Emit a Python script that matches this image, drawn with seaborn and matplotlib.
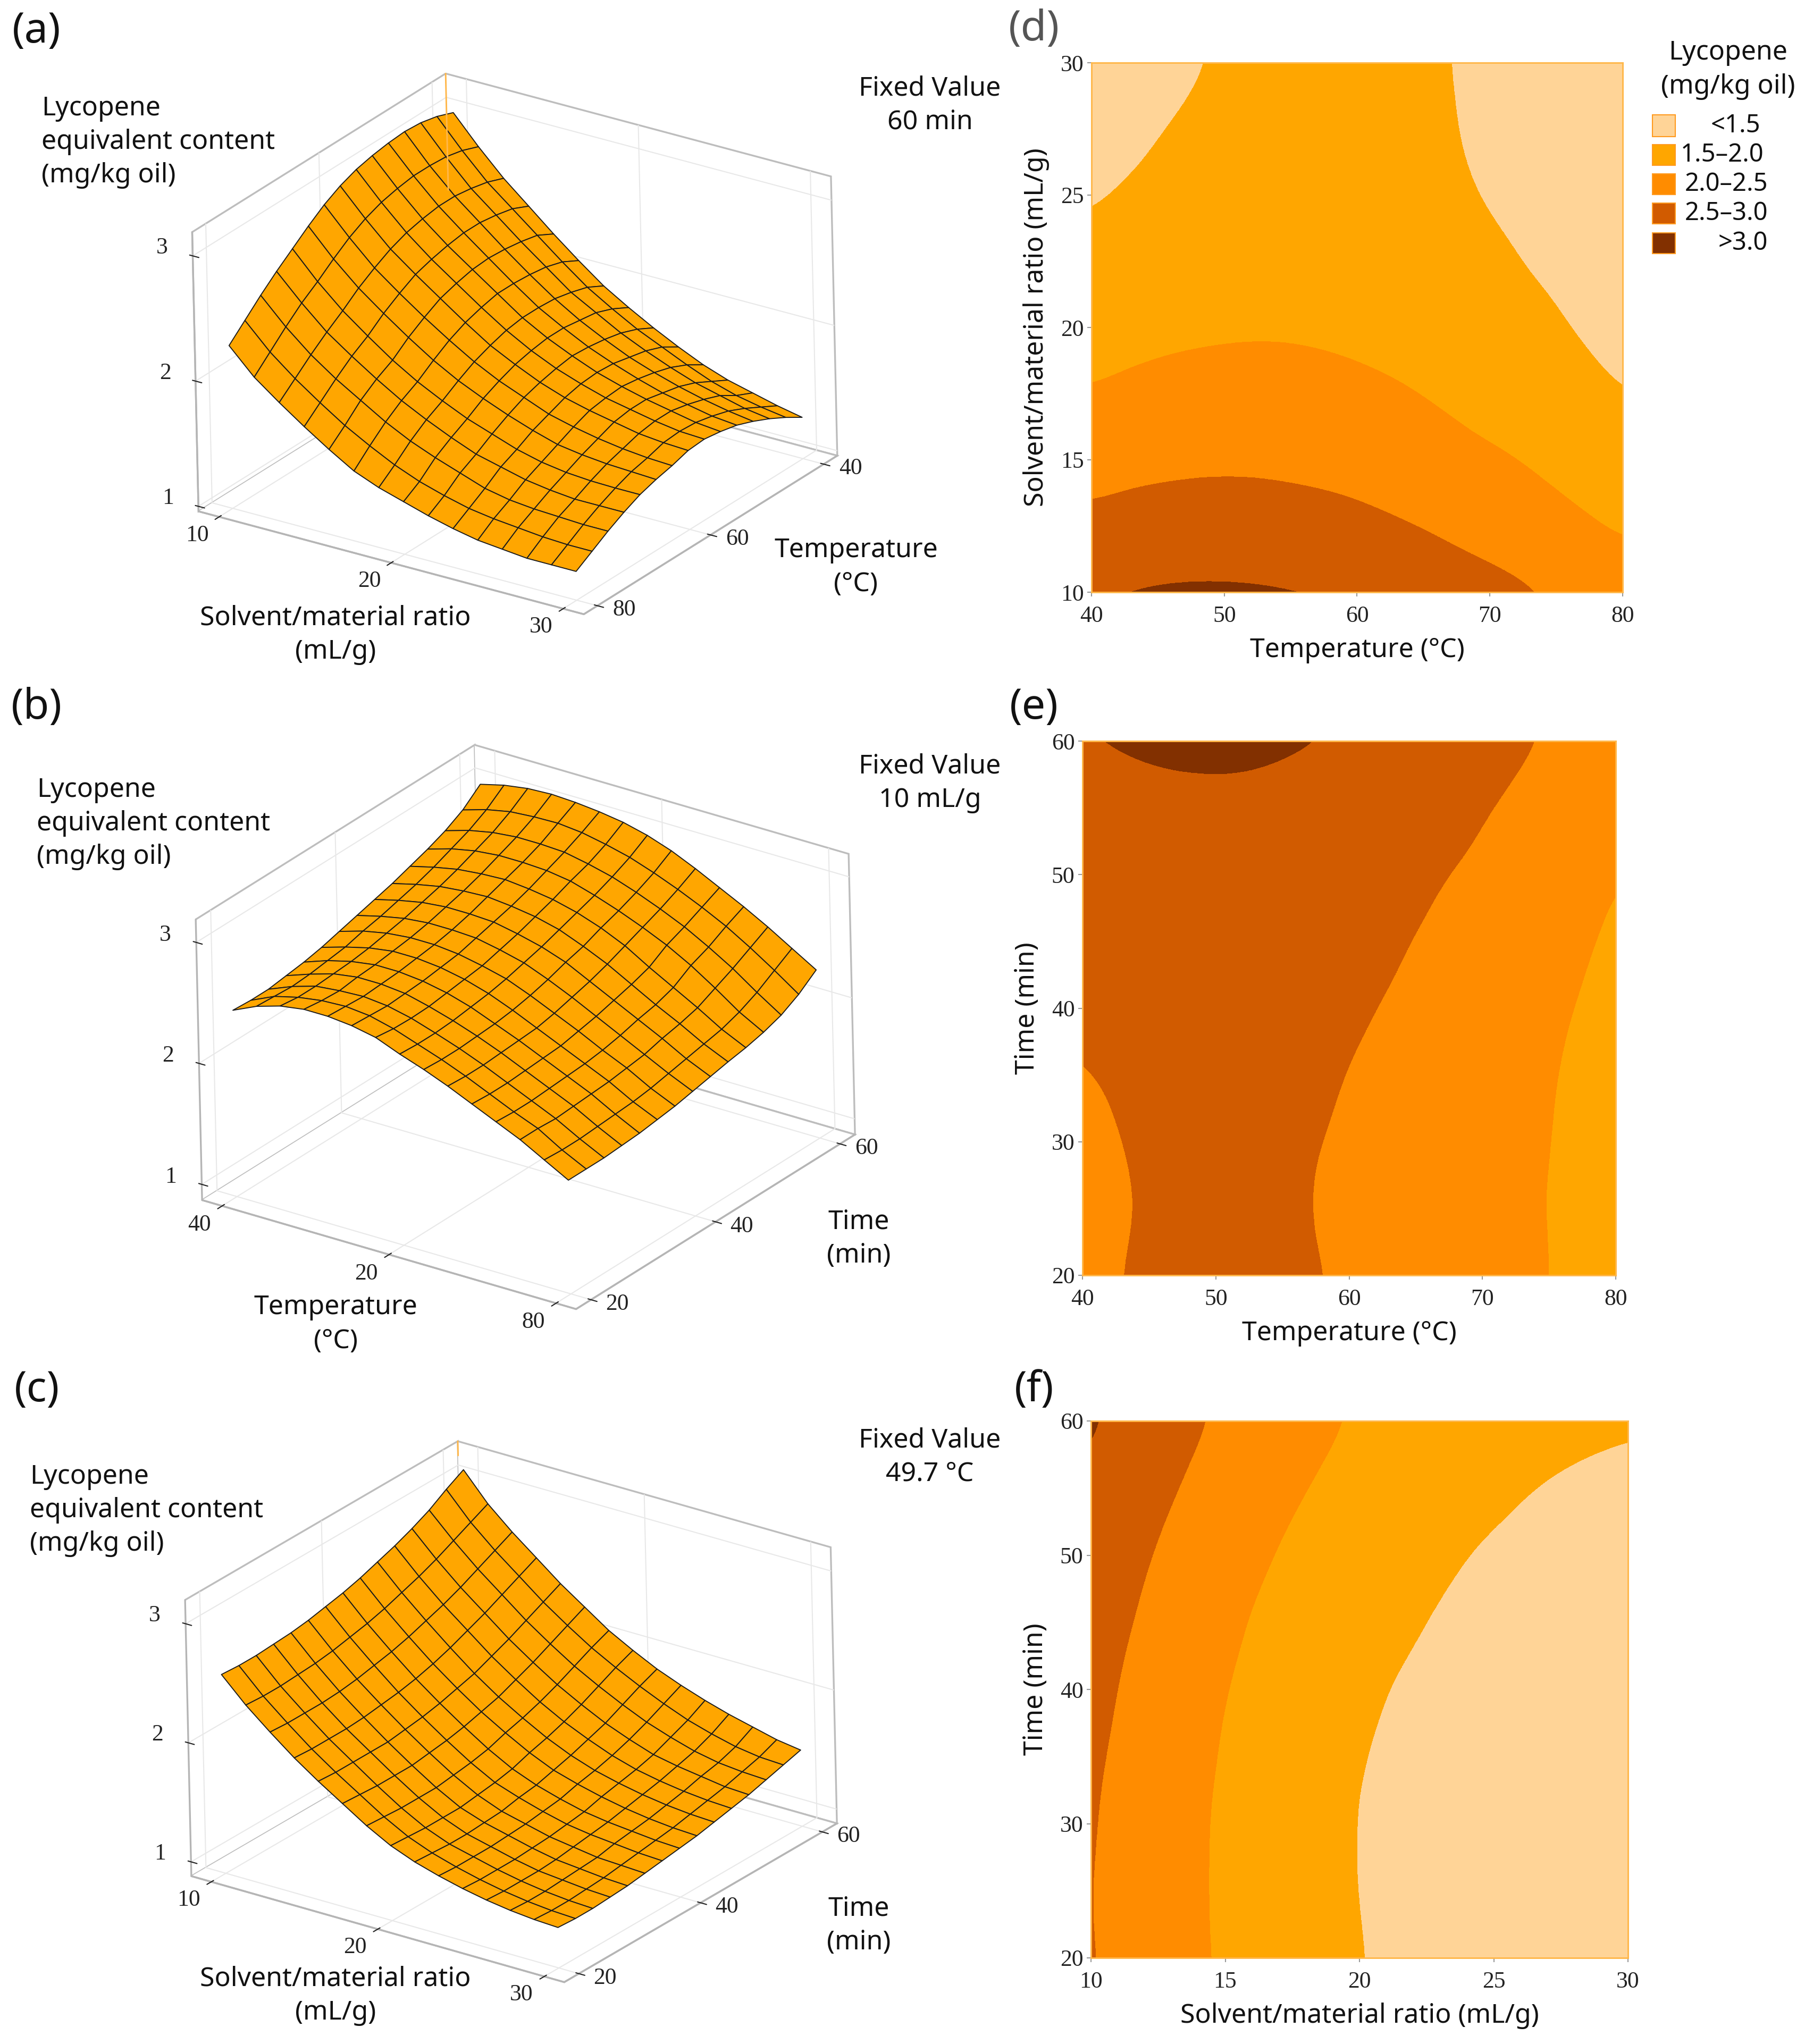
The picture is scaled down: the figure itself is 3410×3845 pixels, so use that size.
import numpy as np
import matplotlib
matplotlib.use("Agg")
import matplotlib.pyplot as plt
from matplotlib.colors import BoundaryNorm, ListedColormap
from matplotlib.patches import Rectangle
import seaborn as sns

S_AXIS = [10, 11.43, 12.86, 14.29, 15.71, 17.14, 18.57, 20, 21.43, 22.86, 24.29, 25.71, 27.14, 28.57, 30]
T_AXIS = [40, 42.86, 45.71, 48.57, 51.43, 54.29, 57.14, 60, 62.86, 65.71, 68.57, 71.43, 74.29, 77.14, 80]
TIME_AXIS = [20, 22.86, 25.71, 28.57, 31.43, 34.29, 37.14, 40, 42.86, 45.71, 48.57, 51.43, 54.29, 57.14, 60]

# rows: temperature, columns: solvent/material ratio (time fixed at 60 min)
Z_TEMP_SOLVENT = [
    [2.99, 2.77, 2.57, 2.40, 2.23, 2.07, 1.92, 1.80, 1.69, 1.59, 1.50, 1.43, 1.38, 1.33, 1.29],
    [3.04, 2.82, 2.62, 2.46, 2.30, 2.14, 1.99, 1.87, 1.76, 1.67, 1.58, 1.50, 1.44, 1.40, 1.37],
    [3.07, 2.85, 2.65, 2.49, 2.33, 2.18, 2.03, 1.92, 1.81, 1.72, 1.64, 1.57, 1.52, 1.47, 1.44],
    [3.08, 2.86, 2.67, 2.51, 2.35, 2.20, 2.06, 1.94, 1.84, 1.75, 1.68, 1.62, 1.57, 1.53, 1.50],
    [3.07, 2.86, 2.67, 2.51, 2.36, 2.21, 2.07, 1.96, 1.86, 1.78, 1.71, 1.65, 1.61, 1.57, 1.55],
    [3.05, 2.84, 2.65, 2.49, 2.35, 2.21, 2.07, 1.96, 1.87, 1.79, 1.73, 1.68, 1.64, 1.60, 1.58],
    [3.02, 2.81, 2.62, 2.46, 2.32, 2.18, 2.05, 1.94, 1.85, 1.78, 1.72, 1.68, 1.64, 1.61, 1.60],
    [2.97, 2.76, 2.57, 2.42, 2.28, 2.14, 2.01, 1.91, 1.82, 1.75, 1.70, 1.66, 1.62, 1.60, 1.59],
    [2.90, 2.69, 2.50, 2.35, 2.21, 2.08, 1.96, 1.86, 1.78, 1.70, 1.65, 1.61, 1.58, 1.56, 1.55],
    [2.81, 2.60, 2.42, 2.27, 2.13, 2.00, 1.89, 1.80, 1.72, 1.65, 1.59, 1.56, 1.54, 1.53, 1.52],
    [2.71, 2.50, 2.32, 2.17, 2.03, 1.91, 1.81, 1.72, 1.65, 1.58, 1.53, 1.50, 1.485, 1.48, 1.48],
    [2.61, 2.41, 2.23, 2.09, 1.96, 1.84, 1.74, 1.65, 1.57, 1.52, 1.47, 1.44, 1.42, 1.42, 1.42],
    [2.50, 2.30, 2.13, 1.99, 1.87, 1.75, 1.65, 1.57, 1.50, 1.43, 1.39, 1.37, 1.36, 1.35, 1.35],
    [2.38, 2.18, 2.02, 1.88, 1.75, 1.64, 1.54, 1.46, 1.40, 1.35, 1.32, 1.30, 1.28, 1.27, 1.27],
    [2.26, 2.06, 1.91, 1.77, 1.64, 1.52, 1.44, 1.38, 1.32, 1.27, 1.23, 1.21, 1.19, 1.19, 1.19],
]

# rows: time, columns: temperature (solvent/material ratio fixed at 10 mL/g)
Z_TIME_TEMP = [
    [2.41, 2.50, 2.56, 2.59, 2.59, 2.57, 2.53, 2.45, 2.38, 2.30, 2.21, 2.12, 2.03, 1.92, 1.81],
    [2.40, 2.49, 2.54, 2.57, 2.58, 2.56, 2.51, 2.44, 2.37, 2.29, 2.20, 2.11, 2.03, 1.91, 1.81],
    [2.40, 2.48, 2.54, 2.56, 2.57, 2.55, 2.505, 2.44, 2.37, 2.29, 2.20, 2.11, 2.02, 1.91, 1.81],
    [2.42, 2.49, 2.55, 2.58, 2.58, 2.56, 2.51, 2.45, 2.38, 2.30, 2.21, 2.12, 2.03, 1.92, 1.82],
    [2.44, 2.51, 2.56, 2.59, 2.59, 2.57, 2.53, 2.47, 2.39, 2.31, 2.22, 2.13, 2.04, 1.93, 1.83],
    [2.47, 2.53, 2.58, 2.61, 2.61, 2.59, 2.55, 2.49, 2.41, 2.32, 2.23, 2.14, 2.05, 1.94, 1.85],
    [2.51, 2.57, 2.61, 2.63, 2.63, 2.61, 2.57, 2.52, 2.44, 2.35, 2.26, 2.16, 2.07, 1.96, 1.87],
    [2.55, 2.60, 2.64, 2.66, 2.66, 2.65, 2.61, 2.56, 2.48, 2.39, 2.29, 2.19, 2.09, 1.99, 1.90],
    [2.59, 2.64, 2.68, 2.70, 2.70, 2.69, 2.65, 2.60, 2.53, 2.43, 2.33, 2.23, 2.13, 2.02, 1.93],
    [2.63, 2.68, 2.72, 2.74, 2.75, 2.73, 2.70, 2.65, 2.57, 2.48, 2.37, 2.26, 2.16, 2.05, 1.96],
    [2.68, 2.73, 2.77, 2.79, 2.80, 2.78, 2.75, 2.70, 2.63, 2.54, 2.42, 2.31, 2.20, 2.08, 1.985],
    [2.73, 2.79, 2.83, 2.85, 2.85, 2.84, 2.81, 2.75, 2.68, 2.60, 2.51, 2.40, 2.27, 2.13, 2.02],
    [2.79, 2.85, 2.89, 2.91, 2.91, 2.90, 2.86, 2.81, 2.74, 2.66, 2.57, 2.46, 2.34, 2.20, 2.07],
    [2.87, 2.93, 2.97, 2.985, 2.99, 2.97, 2.93, 2.88, 2.81, 2.73, 2.64, 2.54, 2.42, 2.29, 2.15],
    [2.99, 3.04, 3.07, 3.08, 3.07, 3.05, 3.02, 2.97, 2.90, 2.81, 2.71, 2.61, 2.50, 2.38, 2.26],
]

# rows: time, columns: solvent/material ratio (temperature fixed at 49.7 C)
Z_TIME_SOLVENT = [
    [2.55, 2.35, 2.18, 2.02, 1.88, 1.75, 1.62, 1.51, 1.43, 1.37, 1.32, 1.28, 1.25, 1.23, 1.22],
    [2.54, 2.34, 2.17, 2.01, 1.87, 1.74, 1.61, 1.50, 1.42, 1.36, 1.31, 1.27, 1.24, 1.22, 1.21],
    [2.54, 2.34, 2.17, 2.01, 1.87, 1.73, 1.60, 1.49, 1.41, 1.36, 1.31, 1.27, 1.24, 1.22, 1.21],
    [2.55, 2.35, 2.17, 2.01, 1.87, 1.73, 1.60, 1.49, 1.41, 1.36, 1.31, 1.27, 1.25, 1.23, 1.22],
    [2.56, 2.36, 2.18, 2.02, 1.87, 1.73, 1.60, 1.49, 1.42, 1.37, 1.32, 1.28, 1.26, 1.24, 1.23],
    [2.58, 2.38, 2.20, 2.04, 1.89, 1.75, 1.62, 1.51, 1.43, 1.38, 1.33, 1.30, 1.27, 1.26, 1.25],
    [2.61, 2.41, 2.23, 2.06, 1.91, 1.77, 1.64, 1.53, 1.46, 1.40, 1.35, 1.32, 1.30, 1.28, 1.27],
    [2.64, 2.44, 2.26, 2.09, 1.94, 1.80, 1.67, 1.56, 1.48, 1.42, 1.37, 1.34, 1.32, 1.30, 1.29],
    [2.68, 2.48, 2.30, 2.13, 1.98, 1.84, 1.72, 1.61, 1.52, 1.46, 1.41, 1.37, 1.34, 1.32, 1.31],
    [2.73, 2.53, 2.35, 2.18, 2.02, 1.88, 1.76, 1.65, 1.56, 1.49, 1.44, 1.40, 1.37, 1.35, 1.34],
    [2.78, 2.58, 2.40, 2.24, 2.08, 1.94, 1.81, 1.70, 1.61, 1.53, 1.47, 1.43, 1.40, 1.38, 1.37],
    [2.84, 2.64, 2.46, 2.30, 2.14, 2.00, 1.87, 1.76, 1.66, 1.58, 1.51, 1.47, 1.44, 1.41, 1.40],
    [2.91, 2.71, 2.53, 2.37, 2.21, 2.07, 1.94, 1.83, 1.73, 1.64, 1.57, 1.51, 1.47, 1.45, 1.44],
    [3.00, 2.78, 2.60, 2.44, 2.28, 2.14, 2.01, 1.90, 1.80, 1.71, 1.63, 1.57, 1.52, 1.49, 1.48],
    [3.08, 2.85, 2.67, 2.51, 2.35, 2.21, 2.07, 1.96, 1.86, 1.78, 1.71, 1.65, 1.60, 1.55, 1.52],
]

LEVELS = [0, 1.5, 2.0, 2.5, 3.0, 4.0]
LEGEND_LABELS = ["<1.5", "1.5–2.0", "2.0–2.5", "2.5–3.0", ">3.0"]
LEVEL_COLORS = ["#FFD497", "#FFA600", "#FF8C00", "#D15B00", "#823000"]
SURFACE_COLOR = "#FFA600"

W, H = 3411, 3845
sns.set_theme(style="white")
plt.rcParams["font.family"] = ["Noto Sans", "DejaVu Sans"]
TICK_FONT = "Liberation Serif"
LABEL_SIZE = 12
palette = sns.color_palette(LEVEL_COLORS)
level_cmap = ListedColormap(palette)
level_norm = BoundaryNorm(LEVELS, len(LEVEL_COLORS))

fig = plt.figure(figsize=(W / 300, H / 300), dpi=300, facecolor="white")


def text_px(x, y, s, **kw):
    kw.setdefault("fontsize", LABEL_SIZE)
    kw.setdefault("color", "#111111")
    return fig.text(x / W, 1 - y / H, s, **kw)


def surface(cx, cy, size, xs, ys, zgrid, xlim, ylim, zlim, xticks, xlabels, yticks, ylabels, azim, elev, aspect, stem=False):
    ax = fig.add_axes([(cx - size / 2) / W, 1 - (cy + size / 2) / H, size / W, size / H],
                      projection="3d", proj_type="ortho")
    ax.patch.set_alpha(0)
    ax.set_box_aspect(aspect, zoom=np.linalg.norm(aspect) / 1.519)
    ax.view_init(elev=elev, azim=azim, roll=1.3)
    X, Y = np.meshgrid(xs, ys)
    Z = np.array(zgrid)
    ax.plot_surface(X, Y, Z, rstride=1, cstride=1, color=SURFACE_COLOR,
                    edgecolor="#1a1a1a", linewidth=0.45, shade=False, antialiased=True)
    if stem:
        ax.plot([xlim[0], xlim[0]], [ylim[1], ylim[1]], [Z[-1, 0], zlim[1]], color="#FFB74A", linewidth=0.7)
    ax.set_xlim(*xlim)
    ax.set_ylim(*ylim)
    ax.set_zlim(*zlim)
    ax.set_xticks(xticks, xlabels)
    ax.set_yticks(yticks, ylabels)
    ax.set_zticks([1, 2, 3], ["1", "2", "3"])
    ax.zaxis._axinfo["juggled"] = (1, 2, 0)
    styles = ((ax.xaxis, -1, "right", "center"), (ax.yaxis, -1.5, "left", "bottom"), (ax.zaxis, 0, "center", "bottom"))
    for axis, pad, ha, va in styles:
        axis.set_pane_color((1, 1, 1, 1))
        axis.pane.set_edgecolor("#bdbdbd")
        axis.pane.set_linewidth(0.8)
        axis.line.set_color("#b5b5b5")
        axis.line.set_linewidth(0.8)
        axis._axinfo["grid"].update(color="#e8e8e8", linewidth=0.5)
        axis._axinfo["tick"].update(color="#b5b5b5", linewidth={True: 0.5, False: 0.3})
        axis.set_tick_params(labelsize=10.5, pad=pad, colors="#222222")
        for lab in axis.get_ticklabels():
            lab.set_fontfamily(TICK_FONT)
            lab.set_ha(ha)
            lab.set_va(va)
    return ax


def contour(rect, xs, ys, zgrid, xticks, yticks, xlabel, ylabel):
    x0, x1, y0, y1 = rect
    ax = fig.add_axes([x0 / W, 1 - y1 / H, (x1 - x0) / W, (y1 - y0) / H])
    dx = (xs[-1] - xs[0]) / (len(xs) - 1) / 2
    dy = (ys[-1] - ys[0]) / (len(ys) - 1) / 2
    ax.imshow(np.array(zgrid), origin="lower", aspect="auto", cmap=level_cmap, norm=level_norm,
              extent=(xs[0] - dx, xs[-1] + dx, ys[0] - dy, ys[-1] + dy),
              interpolation="bicubic", interpolation_stage="data")
    ax.set_xlim(xs[0], xs[-1])
    ax.set_ylim(ys[0], ys[-1])
    ax.set_xticks(xticks)
    ax.set_yticks(yticks)
    ax.tick_params(axis="x", length=2, width=0.5, color="#999999", pad=4, labelsize=10.5, labelcolor="#222222", bottom=True)
    ax.tick_params(axis="y", length=2, width=0.5, color="#999999", pad=1.5, labelsize=10.5, labelcolor="#222222", left=True)
    for lab in ax.get_xticklabels() + ax.get_yticklabels():
        lab.set_fontfamily(TICK_FONT)
    for sp in ax.spines.values():
        sp.set_color("#FFB74A")
        sp.set_linewidth(0.7)
    ax.set_xlabel(xlabel, fontsize=LABEL_SIZE, color="#111111", labelpad=4.5)
    ax.set_ylabel(ylabel, fontsize=LABEL_SIZE, color="#111111", labelpad=5)
    return ax


SIZE = 1342
surface(950, 665, SIZE, S_AXIS, T_AXIS, Z_TEMP_SOLVENT, (8.8, 31.2), (82.4, 37.6), (0.96, 3.19),
        [10, 20, 30], ["10", "20", "30"], [80, 60, 40], ["80", "60", "40"], -55, 24.6, (0.966, 0.926, 0.635), stem=True)
surface(970, 1950, SIZE, T_AXIS, TIME_AXIS, Z_TIME_TEMP, (37.6, 82.4), (17.6, 62.4), (0.87, 3.19),
        [40, 60, 80], ["40", "20", "80"], [20, 40, 60], ["20", "40", "60"], -53.9, 25.7, (0.95, 0.992, 0.644))
surface(943, 3238, SIZE, S_AXIS, TIME_AXIS, Z_TIME_SOLVENT, (8.8, 31.2), (17.6, 62.4), (0.88, 3.2),
        [10, 20, 30], ["10", "20", "30"], [20, 40, 60], ["20", "40", "60"], -53.2, 24.4, (0.956, 0.953, 0.627), stem=True)

contour((2053, 3052, 118, 1114), T_AXIS, S_AXIS, np.array(Z_TEMP_SOLVENT).T, [40, 50, 60, 70, 80], [10, 15, 20, 25, 30],
        "Temperature (°C)", "Solvent/material ratio (mL/g)")
contour((2036, 3039, 1394, 2399), T_AXIS, TIME_AXIS, Z_TIME_TEMP, [40, 50, 60, 70, 80], [20, 30, 40, 50, 60],
        "Temperature (°C)", "Time (min)")
contour((2052, 3062, 2673, 3683), S_AXIS, TIME_AXIS, Z_TIME_SOLVENT, [10, 15, 20, 25, 30], [20, 30, 40, 50, 60],
        "Solvent/material ratio (mL/g)", "Time (min)")

for (x, y, s, c) in [(69, 60, "(a)", "#111111"), (69, 1331, "(b)", "#111111"), (69, 2615, "(c)", "#111111"),
                     (1945, 56, "(d)", "#555555"), (1945, 1331, "(e)", "#111111"), (1945, 2615, "(f)", "#111111")]:
    text_px(x, y, s, fontsize=19, ha="center", va="center", color=c)

YLAB = "Lycopene\nequivalent content\n(mg/kg oil)"
for x, y in [(78, 267), (69, 1549), (56, 2841)]:
    text_px(x, y, YLAB, ha="left", va="center", linespacing=1.35)
for y, s in [(198, "Fixed Value\n60 min"), (1473, "Fixed Value\n10 mL/g"), (2741, "Fixed Value\n49.7 °C")]:
    text_px(1749, y, s, ha="center", va="center", linespacing=1.35)
for x, y, s in [(631, 1194, "Solvent/material ratio\n(mL/g)"), (1610, 1067, "Temperature\n(°C)"),
                (631, 2491, "Temperature\n(°C)"), (1615, 2330, "Time\n(min)"),
                (631, 3754, "Solvent/material ratio\n(mL/g)"), (1615, 3622, "Time\n(min)")]:
    text_px(x, y, s, ha="center", va="center", linespacing=1.35)

# legend of panel (d)
text_px(3250, 131, "Lycopene\n(mg/kg oil)", ha="center", va="center", linespacing=1.35)
SWATCH_Y = [(216, 257), (272, 311), (327, 366), (382, 421), (438, 477)]
for (y0, y1), col, lab, right in zip(SWATCH_Y, palette, LEGEND_LABELS, [3311, 3317, 3325, 3325, 3325]):
    fig.add_artist(Rectangle((3108 / W, 1 - y1 / H), 43 / W, (y1 - y0) / H, transform=fig.transFigure,
                             facecolor=col, edgecolor="#FF9A1F", linewidth=0.5))
    text_px(right, (y0 + y1) / 2, lab, ha="right", va="center", fontsize=11.3)

fig.savefig("out.png", dpi=300)
